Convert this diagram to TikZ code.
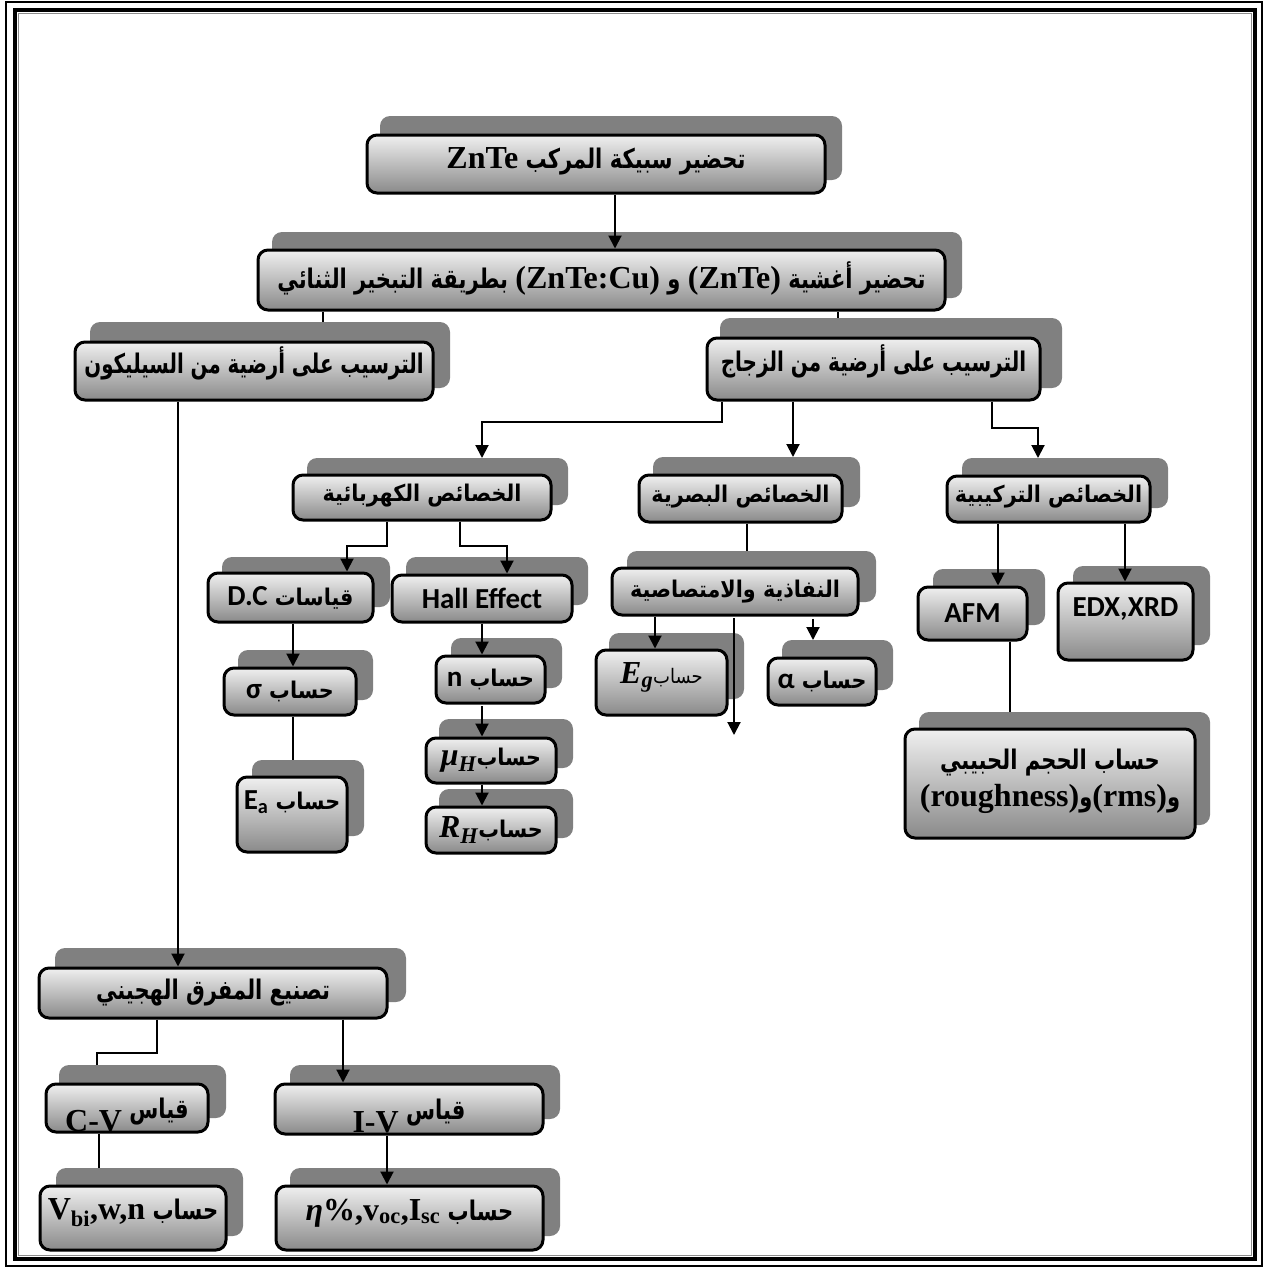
\documentclass[tikz,border=0pt]{standalone}
\usepackage{fontspec}
\usepackage{graphicx}
\usetikzlibrary{arrows.meta,fit,calc}
\TeXXeTstate=1
\newfontfamily\arabT[Script=Arabic,FakeStretch=0.78]{DejaVu Sans}
\newfontfamily\arabC[Script=Arabic,FakeStretch=0.9]{DejaVu Sans}
\newfontfamily\tnr{Liberation Serif}
\newfontfamily\calf{Carlito}
\newcommand\AR[1]{\beginR #1\endR}
\newcommand\LT[1]{\beginL #1\endL}
\definecolor{shadowc}{RGB}{128,128,128}
\tikzset{
  shadowbox/.style={inner sep=0pt, outer sep=0pt, fill=shadowc, rounded corners=10pt},
  frontbox/.style={inner sep=0pt, draw=black, line width=3pt, rounded corners=10pt, top color=black!6, bottom color=black!46},
  tstyle/.style={inner sep=0pt, font=\fontsize{27}{37}\selectfont\arabT\bfseries, align=center},
  cstyle/.style={inner sep=0pt, font=\fontsize{23}{28}\selectfont\arabC\bfseries, align=center},
  conn/.style={line width=2pt, draw=black},
  arr/.style={conn, -{Triangle[length=13pt,width=13pt]}},
}
\newcommand\tl{\tnr\fontsize{32}{36}\selectfont}
\newcommand\cl{\calf\fontsize{29}{33}\selectfont}
% #1 name, #2 #3 front corners, #4 #5 shadow corners, #6 text style, #7 text
\newcommand\mybox[7]{%
  \node[shadowbox, fit={#4 #5}] (#1s) {};
  \node[frontbox, fit={#2 #3}] (#1) {};
  \node[#6] (#1t) at (#1.center) {#7};
}
\begin{document}
\begin{tikzpicture}[x=1pt,y=-1pt]
\useasboundingbox (0,0) rectangle (1264,1267);
% frame
\draw[line width=2pt] (6,2) rectangle (1262,1266);
\draw[line width=4.5pt] (15,10) rectangle (1255,1259);
\draw[line width=1pt, black!45] (18.5,13.5) rectangle (1251.5,1255.5);

\mybox{A}{(367,135)}{(825,193)}{(380,116)}{(842,180)}{tstyle,yshift=3pt}{\AR{تحضير سبيكة المركب \LT{{\tl ZnTe}}}}
\mybox{B}{(258,250)}{(945,310)}{(272,232)}{(962,298)}{tstyle,yshift=2pt}{\AR{تحضير أغشية \LT{{\tl (ZnTe)}} و \LT{{\tl (ZnTe:Cu)}} بطريقة التبخير الثنائي}}
\mybox{C}{(75,342)}{(433,400)}{(90,322)}{(450,388)}{tstyle,yshift=8pt}{\scalebox{0.94}[1]{\AR{الترسيب على أرضية من السيليكون}}}
\mybox{D}{(707,338)}{(1040,400)}{(720,318)}{(1062,388)}{tstyle,yshift=8pt}{\scalebox{0.95}[1]{\AR{الترسيب على أرضية من الزجاج}}}

\mybox{E}{(293,475)}{(551,520)}{(307,458)}{(568,505)}{cstyle,yshift=2pt}{\AR{الخصائص الكهربائية}}
\mybox{F}{(639,475)}{(842,522)}{(653,457)}{(860,507)}{cstyle,yshift=2pt}{\AR{الخصائص البصرية}}
\mybox{G}{(947,476)}{(1150,522)}{(962,458)}{(1168,508)}{cstyle,yshift=2pt}{\AR{الخصائص التركيبية}}

\mybox{DC}{(208,573)}{(373,622)}{(222,557)}{(390,607)}{cstyle}{\AR{قياسات \LT{{\cl D.C}}}}
\mybox{Hall}{(392,575)}{(572,622)}{(406,557)}{(588,605)}{cstyle}{{\cl Hall Effect}}
\mybox{Sig}{(224,668)}{(356,715)}{(238,650)}{(373,700)}{cstyle}{\AR{حساب \LT{{\cl σ}}}}
\mybox{Ea}{(237,777)}{(347,852)}{(252,760)}{(364,836)}{cstyle,yshift=12pt}{\AR{حساب \LT{{\cl E\textsubscript{a}}}}}
\mybox{N}{(436,656)}{(545,703)}{(451,638)}{(562,688)}{cstyle}{\AR{حساب \LT{{\cl n}}}}
\mybox{Mu}{(426,738)}{(556,783)}{(439,719)}{(573,768)}{cstyle}{\AR{حساب\LT{{\tl\bfseries\itshape μ\textsubscript{H}}}}}
\mybox{RH}{(426,807)}{(556,853)}{(439,789)}{(573,838)}{cstyle}{\AR{حساب\LT{{\tl\bfseries\itshape R\textsubscript{H}}}}}

\mybox{H}{(612,568)}{(858,615)}{(627,551)}{(876,602)}{cstyle}{\AR{النفاذية والامتصاصية}}
\mybox{Eg}{(596,650)}{(727,715)}{(609,633)}{(744,699)}{cstyle,yshift=5pt}{\AR{{\mdseries\fontsize{20}{22}\selectfont حساب}\LT{{\tl\bfseries\itshape E\textsubscript{g}}}}}
\mybox{Al}{(768,658)}{(876,705)}{(782,640)}{(893,690)}{cstyle}{\AR{حساب \LT{{\cl α}}}}

\mybox{AFM}{(918,587)}{(1027,640)}{(933,569)}{(1045,625)}{cstyle}{{\cl AFM}}
\mybox{EDX}{(1058,583)}{(1193,660)}{(1073,566)}{(1210,645)}{cstyle,yshift=12pt}{{\cl EDX,XRD}}
\mybox{Grain}{(905,729)}{(1195,838)}{(919,712)}{(1210,825)}{tstyle,yshift=2pt}{\AR{حساب الحجم الحبيبي}\\\AR{و\LT{{\tl (rms)}}و\LT{{\tl (roughness)}}}}

\mybox{I}{(39,968)}{(387,1018)}{(55,948)}{(406,1002)}{tstyle}{\AR{تصنيع المفرق الهجيني}}
\mybox{CV}{(46,1084)}{(208,1132)}{(59,1065)}{(226,1118)}{tstyle,anchor=base,yshift=-10pt}{\AR{قياس \LT{\raisebox{-13pt}{\tl C-V}}}}
\mybox{IV}{(275,1084)}{(543,1134)}{(290,1065)}{(560,1119)}{tstyle,anchor=base,yshift=-10pt}{\AR{قياس \LT{\raisebox{-13pt}{\tl I-V}}}}
\mybox{Vbi}{(40,1186)}{(226,1250)}{(56,1168)}{(243,1236)}{tstyle,yshift=5pt}{\AR{حساب \LT{{\tl V\textsubscript{bi},w,n}}}}
\mybox{Eta}{(276,1186)}{(543,1250)}{(290,1168)}{(560,1236)}{tstyle,yshift=5pt}{\AR{حساب \LT{{\tl{\itshape η}\%,v\textsubscript{oc},I\textsubscript{sc}}}}}

% connectors
\draw[arr] (615,0 |- A.south) -- (615,0 |- B.north);
\draw[conn] (323,0 |- B.south) -- (323,0 |- Cs.north);
\draw[conn] (838,0 |- B.south) -- (838,0 |- Ds.north);
\draw[arr] (178,0 |- C.south) -- (178,0 |- I.north);
\draw[arr] (722,0 |- D.south) -- (722,422) -| (482,0 |- Es.north);
\draw[arr] (793,0 |- D.south) -- (793,0 |- Fs.north);
\draw[arr] (992,0 |- D.south) -- (992,428) -| (1038,0 |- Gs.north);

\draw[arr] (387,0 |- E.south) -- (387,546) -| (347,0 |- DC.north);
\draw[arr] (460,0 |- E.south) -- (460,546) -| (507,0 |- Hall.north);
\draw[arr] (293,0 |- DC.south) -- (293,0 |- Sig.north);
\draw[conn] (293,0 |- Sig.south) -- (293,0 |- Eas.north);
\draw[arr] (482,0 |- Hall.south) -- (482,0 |- N.north);
\draw[arr] (482,706) -- (482,0 |- Mu.north);
\draw[arr] (482,0 |- Mu.south) -- (482,0 |- RH.north);

\draw[conn] (747,0 |- F.south) -- (747,0 |- Hs.north);
\draw[arr] (655,0 |- H.south) -- (655,0 |- Eg.north);
\coordinate (stray) at (734,735);
\draw[arr] (734,618) -- (stray);
\draw[arr] (813,619) -- (813,0 |- Als.north);

\draw[arr] (998,0 |- G.south) -- (998,0 |- AFM.north);
\draw[arr] (1125,0 |- G.south) -- (1125,0 |- EDX.north);
\draw[conn] (1010,0 |- AFM.south) -- (1010,0 |- Grains.north);

\draw[conn] (157,0 |- I.south) -- (157,1053) -| (97,0 |- CVs.north);
\draw[arr] (343,0 |- I.south) -- (343,0 |- IV.north);
\draw[conn] (99,0 |- CV.south) -- (99,0 |- Vbis.north);
\draw[arr] (387,0 |- IV.south) -- (387,0 |- Eta.north);
\end{tikzpicture}
\end{document}
